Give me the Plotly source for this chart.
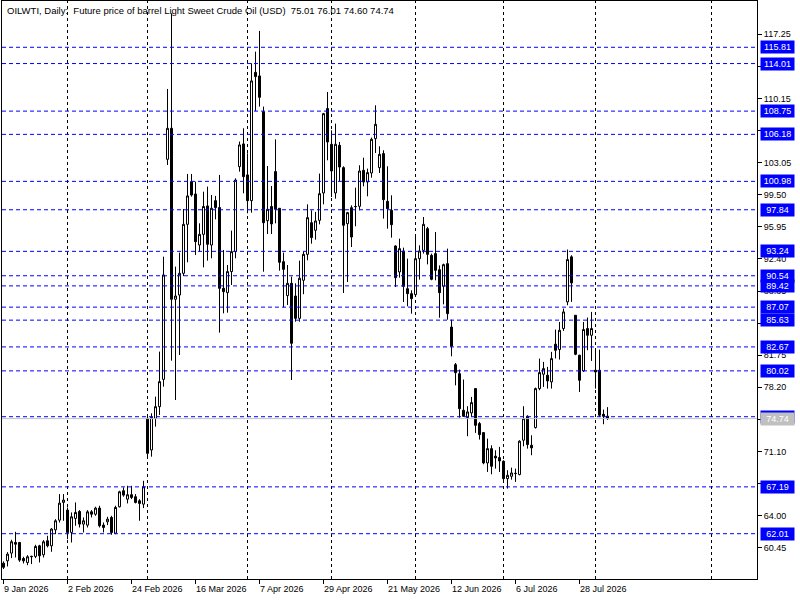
import plotly.graph_objects as go

# ---------------- data ----------------
opens = [58.75, 59.01, 59.86, 61.04, 61.04, 59.27, 58.83, 59.46, 59.50, 60.67,
         59.68, 61.23, 60.67, 62.44, 63.51, 65.47, 64.62, 62.15, 63.70, 64.47,
         63.07, 62.96, 64.43, 64.17, 64.84, 62.96, 63.33, 63.81, 62.07, 64.99,
         66.76, 65.83, 66.32, 66.10, 65.65, 65.28, 74.77, 71.27, 74.77, 76.06,
         79.08, 103.42, 106.85, 87.94, 88.41, 90.81, 96.23, 100.95, 99.58, 93.94,
         95.12, 98.26, 93.94, 98.85, 98.08, 89.15, 88.67, 91.00, 93.21, 102.61,
         105.12, 101.69, 98.85, 113.04, 112.64, 108.69, 96.63, 98.20, 102.06, 98.00,
         92.10, 88.34, 89.70, 88.30, 85.83, 90.04, 92.91, 96.41, 95.57, 96.67,
         99.70, 109.03, 105.08, 99.70, 104.97, 102.50, 96.30, 98.07, 98.18, 98.22,
         102.20, 100.91, 101.91, 105.71, 102.50, 104.05, 98.77, 97.78, 93.83, 90.96,
         93.28, 89.11, 88.56, 88.45, 92.43, 93.35, 95.75, 92.80, 92.99, 91.21,
         89.37, 91.88, 84.87, 80.71, 79.71, 75.66, 74.85, 75.37, 78.06, 74.19,
         73.19, 69.84, 71.42, 70.58, 70.43, 70.02, 68.10, 68.36, 68.66, 68.55,
         72.35, 75.00, 71.79, 73.75, 78.06, 79.65, 79.54, 78.80, 82.97, 82.38,
         84.70, 87.65, 92.63, 86.17, 81.75, 80.01, 84.70, 83.96, 80.09, 80.09,
         75.22, 75.01]
highs = [58.95, 59.97, 61.34, 62.22, 61.10, 59.46, 59.64, 59.57, 60.78, 60.78,
         61.30, 61.78, 62.63, 63.62, 66.39, 66.39, 64.91, 64.36, 65.47, 64.62,
         63.81, 64.62, 64.62, 64.99, 65.10, 63.25, 63.88, 63.99, 65.10, 66.76,
         67.13, 67.31, 67.31, 66.39, 65.83, 67.86, 75.00, 75.32, 77.17, 82.15,
         92.65, 111.20, 119.57, 91.55, 93.10, 97.93, 101.80, 101.80, 100.95, 96.34,
         99.84, 100.40, 99.47, 99.37, 101.69, 93.39, 91.73, 95.53, 101.32, 105.38,
         106.85, 104.08, 114.04, 115.33, 117.62, 109.25, 102.68, 100.47, 105.63, 98.00,
         93.10, 91.73, 90.44, 89.70, 92.21, 93.20, 98.44, 97.78, 97.60, 101.84,
         108.55, 110.87, 106.63, 107.37, 105.34, 102.65, 97.60, 98.33, 100.29, 102.76,
         103.60, 102.39, 105.82, 109.39, 104.86, 104.42, 102.65, 99.44, 93.91, 94.64,
         93.65, 92.43, 88.93, 94.83, 93.91, 97.04, 95.94, 92.99, 95.38, 91.69,
         91.88, 93.54, 85.68, 80.89, 80.16, 79.06, 76.11, 77.14, 78.10, 74.37,
         73.25, 72.53, 71.79, 71.24, 71.61, 70.13, 69.03, 69.32, 69.21, 72.35,
         76.11, 75.11, 72.90, 78.17, 81.38, 81.01, 80.46, 82.12, 84.59, 85.43,
         86.91, 93.44, 92.81, 86.20, 81.80, 85.43, 85.92, 86.54, 82.30, 82.37,
         75.74, 76.01]
lows = [58.10, 58.39, 59.31, 59.38, 58.90, 58.72, 58.53, 58.65, 59.31, 58.83,
        59.38, 60.50, 60.01, 61.96, 63.25, 63.44, 61.41, 61.04, 62.89, 62.70,
        62.15, 62.70, 63.81, 63.99, 62.70, 62.15, 62.96, 61.89, 61.96, 64.91,
        66.10, 65.36, 65.84, 65.36, 63.44, 64.84, 70.35, 70.53, 73.85, 75.14,
        78.27, 102.79, 81.15, 76.80, 81.78, 90.50, 92.03, 99.29, 92.84, 93.21,
        91.47, 92.21, 92.47, 96.78, 84.25, 86.38, 86.46, 89.52, 92.47, 102.06,
        99.66, 97.45, 97.52, 108.77, 109.25, 90.99, 95.16, 95.16, 96.34, 91.10,
        87.05, 87.31, 79.01, 85.46, 85.46, 88.50, 92.25, 94.09, 94.53, 96.23,
        98.44, 103.31, 99.25, 99.07, 101.02, 88.63, 89.85, 93.72, 96.01, 97.78,
        100.43, 99.33, 101.39, 104.12, 101.91, 96.86, 95.75, 94.76, 89.30, 90.33,
        87.64, 87.16, 86.35, 88.19, 90.11, 92.99, 91.80, 90.04, 90.04, 85.90,
        87.38, 85.68, 81.63, 78.42, 74.85, 74.93, 72.79, 74.93, 73.16, 72.42,
        69.69, 68.84, 68.58, 69.21, 68.84, 67.63, 67.00, 67.99, 67.74, 68.47,
        71.68, 71.42, 70.69, 73.64, 77.88, 78.25, 78.06, 78.06, 81.40, 81.27,
        84.44, 87.28, 87.65, 81.75, 77.69, 79.90, 82.30, 81.12, 78.06, 74.93,
        74.12, 74.60]
closes = [58.30, 59.75, 61.12, 60.85, 59.09, 59.01, 59.46, 59.50, 60.60, 59.57,
          61.12, 60.67, 62.52, 63.44, 65.39, 65.73, 62.15, 63.88, 64.36, 63.07,
          63.44, 64.43, 64.17, 64.84, 62.89, 62.70, 63.62, 62.15, 64.91, 66.65,
          66.28, 66.32, 66.02, 65.47, 65.36, 67.20, 70.90, 74.88, 76.06, 78.83,
          90.63, 106.85, 87.94, 88.30, 90.81, 96.23, 99.37, 99.47, 94.31, 95.12,
          98.20, 94.02, 98.00, 98.08, 89.15, 88.78, 91.00, 93.21, 101.13, 105.01,
          101.50, 98.85, 112.09, 112.57, 110.28, 96.41, 97.89, 96.27, 97.89, 92.03,
          91.25, 89.70, 83.07, 85.83, 90.26, 92.91, 96.97, 94.76, 96.60, 99.62,
          108.47, 105.34, 102.13, 105.08, 102.57, 96.12, 97.52, 94.83, 98.20, 102.13,
          100.91, 101.95, 105.63, 107.29, 103.97, 98.96, 97.96, 96.19, 90.33, 93.54,
          89.37, 88.56, 88.01, 92.43, 93.28, 96.23, 92.91, 90.15, 91.14, 88.67,
          91.77, 86.35, 82.74, 79.82, 75.84, 75.00, 75.48, 76.51, 74.00, 72.97,
          69.84, 71.42, 69.47, 70.39, 70.06, 68.10, 68.47, 68.73, 68.68, 72.24,
          74.74, 71.87, 71.50, 78.06, 79.83, 80.27, 78.91, 81.38, 82.30, 84.51,
          86.54, 92.33, 89.75, 81.86, 78.98, 84.59, 83.96, 84.70, 79.90, 75.11,
          75.00, 74.74]

date_tick_pos = [0, 16, 32, 48, 64, 80, 96, 112, 128, 144]
date_tick_labels = ["9 Jan 2026", "2 Feb 2026", "24 Feb 2026", "16 Mar 2026",
                    "7 Apr 2026", "29 Apr 2026", "21 May 2026", "12 Jun 2026",
                    "6 Jul 2026", "28 Jul 2026"]
vgrid_pos = [16, 36, 61, 82, 103, 125, 148, 177]

price_ticks = [117.25, 113.70, 110.15, 106.60, 103.05, 99.50, 95.95, 92.40,
               88.85, 85.30, 81.75, 78.20, 74.65, 71.10, 67.55, 64.00, 60.45]

levels = [115.81, 114.01, 108.75, 106.18, 100.98, 97.84, 93.24, 90.54,
          89.42, 87.07, 85.63, 82.67, 80.02, 74.95, 67.19, 62.01]
last_price = 74.74

title_text = ("OILWTI, Daily:\u00a0\u00a0Future price of barrel Light Sweet Crude Oil (USD)"
              "\u00a0\u00a075.01 76.01 74.60 74.74")

# ---------------- figure ----------------
FONT = "Liberation Sans, Arial, sans-serif"
FS = 9
x = list(range(len(opens)))

fig = go.Figure()
fig.add_trace(go.Candlestick(
    x=x, open=opens, high=highs, low=lows, close=closes,
    increasing=dict(line=dict(color="black", width=1), fillcolor="white"),
    decreasing=dict(line=dict(color="black", width=1), fillcolor="black"),
    whiskerwidth=0, hoverinfo="skip", showlegend=False,
))

shapes = []
for v in vgrid_pos:
    shapes.append(dict(type="line", xref="x", yref="paper", x0=v, x1=v, y0=0, y1=1,
                       line=dict(color="black", width=1, dash="3px,3px"), layer="below"))
for lv in levels:
    shapes.append(dict(type="line", xref="paper", yref="y", x0=0, x1=1, y0=lv, y1=lv,
                       line=dict(color="#0000FF", width=1, dash="4px,3px"), layer="above"))
shapes.append(dict(type="line", xref="paper", yref="y", x0=0, x1=1,
                   y0=last_price, y1=last_price,
                   line=dict(color="#C0C0C0", width=1), layer="above"))

annotations = [dict(text=title_text, xref="paper", yref="paper", x=0, y=1,
                    xanchor="left", yanchor="top", xshift=3, yshift=-2,
                    showarrow=False, font=dict(family=FONT, size=9.5, color="black"))]
for pos, lab in zip(date_tick_pos, date_tick_labels):
    annotations.append(dict(text=lab, xref="x", yref="paper", x=pos, y=0,
                            xanchor="left", yanchor="top", xshift=-2, yshift=-3,
                            showarrow=False,
                            font=dict(family=FONT, size=FS, color="black")))
for lv in levels:
    annotations.append(dict(text=f"{lv:.2f}", xref="paper", yref="y", x=1, y=lv,
                            xanchor="left", yanchor="middle", xshift=3,
                            width=31, height=10, align="center",
                            showarrow=False, bgcolor="#0000FF", borderpad=1,
                            font=dict(family=FONT, size=FS, color="white")))
annotations.append(dict(text=f"{last_price:.2f}", xref="paper", yref="y", x=1,
                        y=last_price, xanchor="left", yanchor="middle", xshift=3,
                        width=31, height=10, align="center",
                        showarrow=False, bgcolor="#C0C0C0", borderpad=1,
                        font=dict(family=FONT, size=FS, color="white")))

fig.update_layout(
    width=800, height=600, autosize=False,
    margin=dict(l=2, r=43, t=1, b=21, pad=0),
    paper_bgcolor="white", plot_bgcolor="white",
    hovermode=False, showlegend=False,
    boxgap=0, boxgroupgap=0.5,
    shapes=shapes, annotations=annotations,
    xaxis=dict(range=[-0.375, 188.375], rangeslider=dict(visible=False),
               showgrid=False, zeroline=False, showline=True, mirror=True,
               linecolor="black", linewidth=1,
               tickmode="array", tickvals=date_tick_pos, showticklabels=False,
               ticks="outside", ticklen=4, tickcolor="black"),
    yaxis=dict(range=[57.0, 120.93], side="right", showgrid=False, zeroline=False,
               showline=True, mirror=True, linecolor="black", linewidth=1,
               tickmode="array", tickvals=price_ticks,
               ticktext=[f"{t:.2f}" for t in price_ticks],
               ticks="outside", ticklen=4, tickcolor="black",
               tickfont=dict(family=FONT, size=FS, color="black")),
)

fig.write_html("out.html", config={"displayModeBar": False},
               post_script="document.body.style.margin='0px';")
